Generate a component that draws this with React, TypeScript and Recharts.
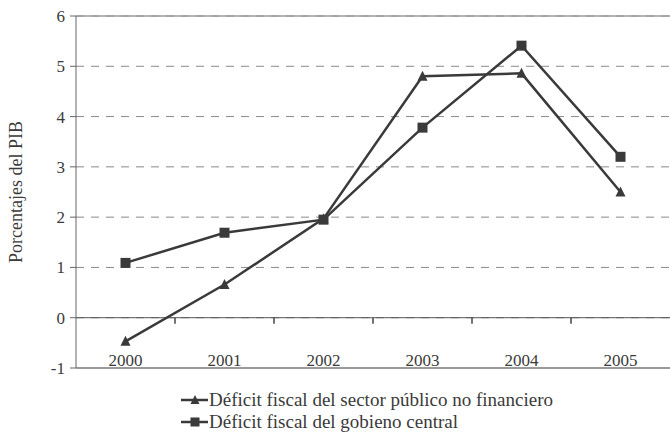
import React from "react";
import {
  LineChart,
  Line,
  XAxis,
  YAxis,
  CartesianGrid,
  ReferenceLine,
  Legend,
} from "recharts";

const years = ["2000", "2001", "2002", "2003", "2004", "2005"];
const sectorPublico = [-0.47, 0.66, 1.97, 4.8, 4.86, 2.5];
const gobiernoCentral = [1.09, 1.69, 1.95, 3.78, 5.41, 3.2];
const yTicks = [-1, 0, 1, 2, 3, 4, 5, 6];
const Y_MIN = -1;
const Y_MAX = 6;

const seriesNames = [
  "Déficit fiscal del sector público no financiero",
  "Déficit fiscal del gobieno central",
];

// each year sits in the middle of its own slot on a 0..6 axis
const data = years.map((year, i) => ({
  year,
  pos: i + 0.5,
  sector: sectorPublico[i],
  gobierno: gobiernoCentral[i],
}));
const xTicks = data.map((d) => d.pos);
const boundaries = years.slice(1).map((_, i) => i + 1);

const FONT = "'Liberation Serif', 'Times New Roman', Times, serif";
const INK = "#3a3a3a";

const Triangle = (props: any) => {
  const { cx, cy, size = 10 } = props;
  if (cx == null || cy == null) return null;
  const h = size * 0.9;
  return (
    <path
      d={`M${cx},${cy - h / 2 - 1} L${cx + size / 2},${cy + h / 2} L${cx - size / 2},${cy + h / 2} Z`}
      fill={INK}
    />
  );
};

const Square = (props: any) => {
  const { cx, cy, size = 9 } = props;
  if (cx == null || cy == null) return null;
  return <rect x={cx - size / 2} y={cy - size / 2} width={size} height={size} fill={INK} />;
};

const YearTick = (props: any) => {
  const { x, y, payload } = props;
  const label = years[Math.round(payload.value - 0.5)];
  return (
    <text
      x={x}
      y={y - 10}
      textAnchor="middle"
      style={{ fontFamily: FONT, fontSize: 17 }}
      fill={INK}
    >
      {label}
    </text>
  );
};

const LegendBox = () => (
  <div style={{ fontFamily: FONT, fontSize: 19, color: INK, paddingLeft: 181, lineHeight: "22px" }}>
    {seriesNames.map((name, i) => (
      <div key={name} style={{ display: "flex", alignItems: "center", height: 22 }}>
        <svg width={28} height={14} style={{ flex: "none" }}>
          <line x1={0} y1={7} x2={27} y2={7} stroke={INK} strokeWidth={2.5} />
          {i === 0 ? (
            <Triangle cx={14} cy={7} size={9} />
          ) : (
            <Square cx={14} cy={7} size={9} />
          )}
        </svg>
        <span>{name}</span>
      </div>
    ))}
  </div>
);

export default function App() {
  return (
    <div style={{ position: "absolute", left: 0, top: 0, width: 670, height: 433, background: "#fff" }}>
      <LineChart
        width={670}
        height={433}
        data={data}
        margin={{ top: 16, right: 0, bottom: 20, left: 0 }}
      >
        <CartesianGrid vertical={false} stroke="#8a8a8a" strokeDasharray="8 7" />
        <XAxis
          dataKey="pos"
          type="number"
          domain={[0, 6]}
          ticks={xTicks}
          interval={0}
          axisLine={{ stroke: "#9a9a9a", strokeWidth: 2 }}
          tickLine={false}
          tick={<YearTick />}
          height={1}
        />
        <YAxis
          domain={[Y_MIN, Y_MAX]}
          ticks={yTicks}
          interval={0}
          width={76}
          axisLine={{ stroke: "#666" }}
          tickLine={{ stroke: "#666" }}
          tickSize={6}
          tickMargin={5}
          tick={{ fontFamily: FONT, fontSize: 17, fill: INK }}
          label={{
            value: "Porcentajes del PIB",
            angle: -90,
            position: "insideLeft",
            offset: 16,
            style: { fontFamily: FONT, fontSize: 18, fill: INK, textAnchor: "middle" },
          }}
        />
        <ReferenceLine y={6} stroke="#9a9a9a" strokeWidth={1.5} />
        <ReferenceLine y={0} stroke="#555" strokeWidth={1} />
        {boundaries.map((b) => (
          <ReferenceLine
            key={`mark-${b}`}
            ifOverflow="extendDomain"
            segment={[
              { x: b, y: 0 },
              { x: b, y: -0.12 },
            ]}
            stroke="#444"
            strokeWidth={1.5}
          />
        ))}
        <Legend
          verticalAlign="bottom"
          align="left"
          content={<LegendBox />}
          wrapperStyle={{ bottom: 0 }}
        />
        <Line
          dataKey="sector"
          stroke={INK}
          strokeWidth={2.5}
          dot={<Triangle size={10} />}
          activeDot={false}
          isAnimationActive={false}
        />
        <Line
          dataKey="gobierno"
          stroke={INK}
          strokeWidth={2.5}
          dot={<Square size={10} />}
          activeDot={false}
          isAnimationActive={false}
        />
      </LineChart>
    </div>
  );
}
